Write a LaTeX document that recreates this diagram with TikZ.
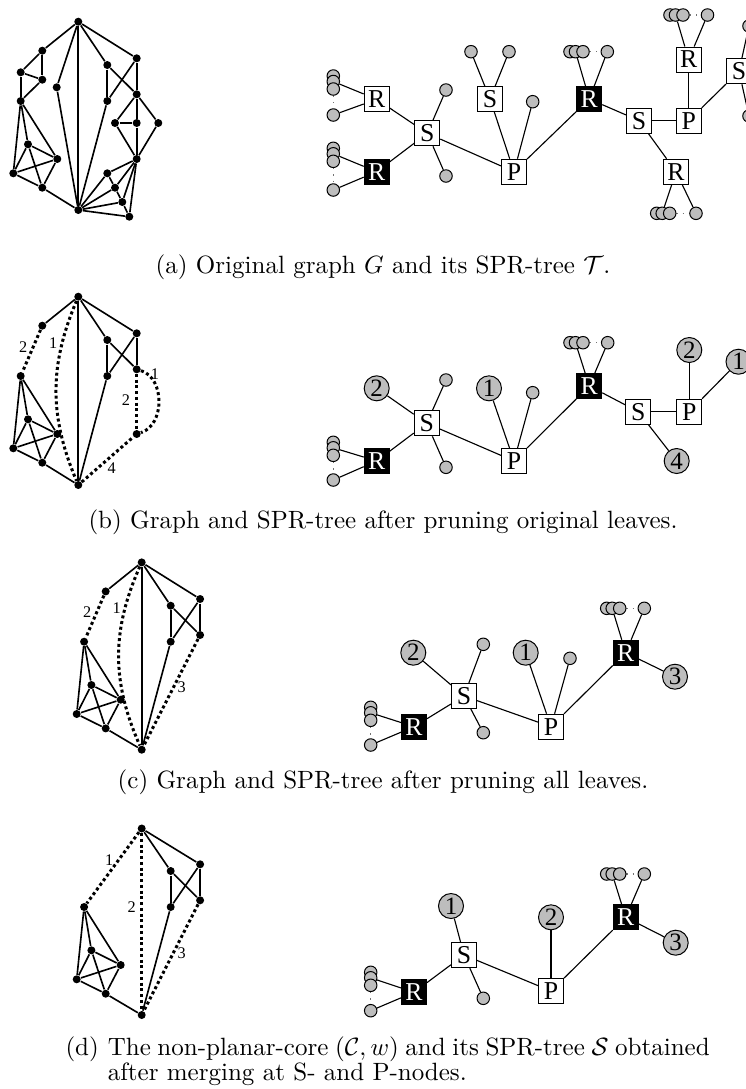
\documentclass[tikz,border=0pt]{standalone}
\usepackage{fontspec}
\newfontfamily\tms{Liberation Serif}
\pgfdeclarelayer{edges}
\pgfsetlayers{edges,main}
\definecolor{leafgray}{gray}{0.74}
\tikzset{
  vtx/.style={circle,fill=black,inner sep=0pt,minimum size=3.2pt},
  gedge/.style={line width=0.65pt},
  wedge/.style={line width=1.2pt,dash pattern=on 1.2pt off 1.1pt},
  wlabel/.style={font=\fontsize{6.5}{7}\tms,inner sep=0.5pt},
  tbox/.style={draw,line width=0.4pt,fill=white,minimum size=10pt,inner sep=0pt,font=\fontsize{10.3}{12}\tms},
  tboxblack/.style={tbox,fill=black,text=white},
  leaf/.style={circle,draw,line width=0.4pt,fill=leafgray,inner sep=0pt,minimum size=5pt},
  bigleaf/.style={circle,draw,line width=0.4pt,fill=leafgray,inner sep=0pt,minimum size=10pt,font=\fontsize{10}{12}\tms},
  tedge/.style={line width=0.45pt},
  leafdots/.style={draw=black!55,dotted,line width=0.5pt},
  capt/.style={inner sep=0pt,font=\fontsize{10}{12}\selectfont},
}
% vertical group of leaves: three stacked discs and a lone one, joined by dots
\newcommand\vleaves[4]{%
  \node[leaf] (#1a) at (#2,#3) {};
  \node[leaf] (#1b) at (#2,#3+5.5) {};
  \node[leaf] (#1c) at (#2,#3+13) {};
  \node[leaf] (#1d) at (#2,#4) {};
  \begin{pgfonlayer}{edges}\draw[leafdots] (#1c) -- (#1d);\end{pgfonlayer}}
% horizontal group of leaves
\newcommand\hleaves[4]{%
  \node[leaf] (#1a) at (#2,#3) {};
  \node[leaf] (#1b) at (#2+5.5,#3) {};
  \node[leaf] (#1c) at (#2+13,#3) {};
  \node[leaf] (#1d) at (#4,#3) {};
  \begin{pgfonlayer}{edges}\draw[leafdots] (#1c) -- (#1d);\end{pgfonlayer}}
\newcommand\placeverts[2]{\foreach \n/\x/\y in {#2} {\node[vtx] (#1\n) at (\x,\y) {};}}
\newcommand\joinverts[2]{\foreach \u/\v in {#2} {\draw[gedge] (#1\u) -- (#1\v);}}
\begin{document}
\begin{tikzpicture}[x=0.4pt,y=-0.4pt]
\useasboundingbox (0,0) rectangle (746,1089);
\clip (0,0) rectangle (746,1089);

% ---------------- (a) graph G ----------------
\placeverts{a}{T/78.3/21.7, A1/42.3/50.7, A2/20.7/72.3, A3/42.3/79.7, A4/20.7/101,
  C/56.7/87.3, K1/28/144.3, K2/57.3/159, K3/13.3/173.3, K4/42.3/187.7, B/78.3/210,
  R1/107.3/65, R2/136.7/58.3, R3/107.3/101, R4/136.7/94.3, R5/115/123, R6/136.7/123,
  R7/158.3/123, R8/136.7/159, R9/107.3/173.3, R10/115/187.7, R11/122.3/202, R12/129.3/216.7}
\joinverts{a}{T/A1, A1/A2, A1/A3, A2/A3, A2/A4, A3/A4, T/C, C/B, T/B, T/R1, T/R2,
  R1/R3, R1/R4, R2/R3, R2/R4, R3/B, R4/R5, R4/R6, R4/R7, R5/R6, R6/R8, R5/R8, R7/R8,
  R8/R9, R8/R10, R8/R11, R8/R12, B/R9, B/R10, B/R11, B/R12, R9/R10, R10/R11, R11/R12,
  A4/K1, A4/K2, A4/K3, K1/K2, K1/K3, K1/K4, K2/K3, K2/K4, K3/K4, K4/B}

% ---------------- (b) graph ----------------
\begin{scope}[shift={(0,275)}]
\placeverts{b}{T/78.3/21.7, A1/42.3/50.7, A4/20.7/101, K1/28/144.3, K2/57.3/159,
  K3/13.3/173.3, K4/42.3/187.7, B/78.3/210, R1/107.3/65, R2/136.7/58.3,
  R3/107.3/101, R4/136.7/94.3, R8/136.7/159}
\joinverts{b}{T/A1, T/B, T/R1, T/R2, R1/R3, R1/R4, R2/R3, R2/R4, R3/B,
  A4/K1, A4/K2, A4/K3, K1/K2, K1/K3, K1/K4, K2/K3, K2/K4, K3/K4, K4/B}
\draw[wedge] (bA1) -- (bA4);
\draw[wedge] (bT) to[bend right=23] (bB);
\draw[wedge] (bR4) -- (bR8);
\draw[wedge] (bR4) .. controls (165,103) and (165,150) .. (bR8);
\draw[wedge] (bB) -- (bR8);
\node[wlabel] (bl1) at (23.3,71.7) {2};
\node[wlabel] (bl2) at (53.3,68.3) {1};
\node[wlabel] (bl3) at (126,125) {2};
\node[wlabel] (bl4) at (155,99.3) {1};
\node[wlabel] (bl5) at (111.7,193.3) {4};
\end{scope}

% ---------------- (c) graph ----------------
\begin{scope}[shift={(63.4,540.7)}]
\placeverts{c}{T/78.3/21.7, A1/42.3/50.7, A4/20.7/101, K1/28/144.3, K2/57.3/159,
  K3/13.3/173.3, K4/42.3/187.7, B/78.3/209, R1/107.3/65, R2/136.7/58.3,
  R3/107.3/101, R4/136.7/94.3}
\joinverts{c}{T/A1, T/B, T/R1, T/R2, R1/R3, R1/R4, R2/R3, R2/R4, R3/B,
  A4/K1, A4/K2, A4/K3, K1/K2, K1/K3, K1/K4, K2/K3, K2/K4, K3/K4, K4/B}
\draw[wedge] (cA1) -- (cA4);
\draw[wedge] (cT) to[bend right=24] (cB);
\draw[wedge] (cR4) -- (cB);
\node[wlabel] (cl1) at (23.9,71) {2};
\node[wlabel] (cl2) at (53.3,67.6) {1};
\node[wlabel] (cl3) at (118.3,146) {3};
\end{scope}

% ---------------- (d) graph ----------------
\begin{scope}[shift={(63.4,806)}]
\placeverts{d}{T/78.3/22.5, A4/20.7/101, K1/28/144.3, K2/57.3/159,
  K3/13.3/173.3, K4/42.3/187.7, B/78.3/209, R1/107.3/65, R2/136.7/58.3,
  R3/107.3/101, R4/136.7/94.3}
\joinverts{d}{T/R1, T/R2, R1/R3, R1/R4, R2/R3, R2/R4, R3/B,
  A4/K1, A4/K2, A4/K3, K1/K2, K1/K3, K1/K4, K2/K3, K2/K4, K3/K4, K4/B}
\draw[wedge] (dT) -- (dA4);
\draw[wedge] (dT) -- (dB);
\draw[wedge] (dR4) -- (dB);
\node[wlabel] (dl1) at (45.9,54) {1};
\node[wlabel] (dl2) at (68.3,100.7) {2};
\node[wlabel] (dl3) at (118.3,147.3) {3};
\end{scope}

% ---------------- (a) SPR-tree ----------------
\node[tbox] (taR1) at (376.7,99.3) {R};
\node[tbox] (taS1) at (427.3,133.3) {S};
\node[tboxblack] (taR2) at (376.7,171.7) {R};
\node[tbox] (taS2) at (490,99) {S};
\node[tbox] (taP1) at (514,171.7) {P};
\node[tboxblack] (taR3) at (589.3,99) {R};
\node[tbox] (taS3) at (639,120.6) {S};
\node[tbox] (taP2) at (688.7,120.6) {P};
\node[tbox] (taR4) at (688.7,59.5) {R};
\node[tbox] (taR5) at (676,171.7) {R};
\node[tbox] (taS4) at (739,71.3) {S};
\vleaves{taL1}{333.3}{76}{115}
\vleaves{taL2}{333.3}{148.3}{190}
\hleaves{taL3}{570}{51.7}{607.3}
\hleaves{taL4}{670}{15}{707.5}
\hleaves{taL5}{656.7}{213.3}{696}
\node[leaf] (taM1) at (446,90) {};
\node[leaf] (taM2) at (446,176) {};
\node[leaf] (taM3) at (471,51.7) {};
\node[leaf] (taM4) at (509,51.7) {};
\node[leaf] (taM5) at (532.7,101.7) {};
\node[leaf] (taM6) at (749,26) {};
\node[leaf] (taM7) at (749,116) {};

% ---------------- (b) SPR-tree ----------------
\node[tboxblack] (tbR1) at (376.7,461) {R};
\node[tbox] (tbS1) at (426.7,423.3) {S};
\node[tbox] (tbP1) at (514,461) {P};
\node[tboxblack] (tbR3) at (589.3,386) {R};
\node[tbox] (tbS3) at (638.3,411.7) {S};
\node[tbox] (tbP2) at (689.3,411.7) {P};
\node[bigleaf] (tbW1) at (376.7,388.3) {2};
\node[bigleaf] (tbW2) at (489,388.3) {1};
\node[bigleaf] (tbW3) at (689.3,350) {2};
\node[bigleaf] (tbW4) at (738.5,361.7) {1};
\node[bigleaf] (tbW5) at (676.7,461) {4};
\node[leaf] (tbM1) at (446,380) {};
\node[leaf] (tbM2) at (446,467.3) {};
\node[leaf] (tbM3) at (532.7,392.7) {};
\vleaves{tbL1}{333.3}{442.3}{480}
\hleaves{tbL3}{570}{342.7}{607.7}

% ---------------- (c) SPR-tree ----------------
\node[tboxblack] (tcR1) at (414,726.7) {R};
\node[tbox] (tcS1) at (464,696) {S};
\node[tbox] (tcP1) at (551,726.7) {P};
\node[tboxblack] (tcR3) at (625.7,652.7) {R};
\node[bigleaf] (tcW1) at (413.3,652.7) {2};
\node[bigleaf] (tcW2) at (525.7,652.7) {1};
\node[bigleaf] (tcW3) at (675,676.7) {3};
\node[leaf] (tcM1) at (483.3,644.3) {};
\node[leaf] (tcM2) at (483.3,732.7) {};
\node[leaf] (tcM3) at (570,658.3) {};
\vleaves{tcL1}{370.7}{707.3}{745}
\hleaves{tcL3}{606.7}{608.3}{644.3}

% ---------------- (d) SPR-tree ----------------
\node[tboxblack] (tdR1) at (414,992.3) {R};
\node[tbox] (tdS1) at (464,955) {S};
\node[tbox] (tdP1) at (551,991) {P};
\node[tboxblack] (tdR3) at (625.7,917.3) {R};
\node[bigleaf] (tdW1) at (451,906) {1};
\node[bigleaf] (tdW2) at (551,917.3) {2};
\node[bigleaf] (tdW3) at (675.7,942.7) {3};
\node[leaf] (tdM1) at (483.3,998.3) {};
\vleaves{tdL1}{370.7}{972.3}{1010.7}
\hleaves{tdL3}{606.7}{874}{644.3}

% tree edges, kept underneath the nodes
\begin{pgfonlayer}{edges}
\foreach \u/\v in {taR1/taS1, taR2/taS1, taS1/taP1, taS2/taP1, taP1/taR3, taR3/taS3,
  taS3/taP2, taP2/taR4, taP2/taS4, taS3/taR5, taS1/taM1, taS1/taM2, taS2/taM3, taS2/taM4,
  taP1/taM5, taS4/taM6, taS4/taM7, taR1/taL1b, taR1/taL1d, taR2/taL2b, taR2/taL2d,
  taR3/taL3b, taR3/taL3d, taR4/taL4b, taR4/taL4d, taR5/taL5b, taR5/taL5d,
  tbR1/tbS1, tbW1/tbS1, tbS1/tbM1, tbS1/tbM2, tbS1/tbP1, tbW2/tbP1, tbM3/tbP1,
  tbP1/tbR3, tbR3/tbS3, tbS3/tbP2, tbP2/tbW3, tbP2/tbW4, tbS3/tbW5,
  tbR1/tbL1b, tbR1/tbL1d, tbR3/tbL3b, tbR3/tbL3d,
  tcR1/tcS1, tcW1/tcS1, tcS1/tcM1, tcS1/tcM2, tcS1/tcP1, tcW2/tcP1, tcM3/tcP1,
  tcP1/tcR3, tcR3/tcW3, tcR1/tcL1b, tcR1/tcL1d, tcR3/tcL3b, tcR3/tcL3d,
  tdR1/tdS1, tdW1/tdS1, tdS1/tdM1, tdS1/tdP1, tdW2/tdP1, tdP1/tdR3, tdR3/tdW3,
  tdR1/tdL1b, tdR1/tdL1d, tdR3/tdL3b, tdR3/tdL3d}
  {\draw[tedge] (\u) -- (\v);}
\end{pgfonlayer}

% ---------------- captions ----------------
\node[capt,anchor=base] (capa) at (383,273) {(a) Original graph $G$ and its SPR-tree $\mathcal{T}$.};
\node[capt,anchor=base] (capb) at (383,528) {(b) Graph and SPR-tree after pruning original leaves.};
\node[capt,anchor=base] (capc) at (383,788) {(c) Graph and SPR-tree after pruning all leaves.};
\node[capt,anchor=base west] (capd) at (65,1055) {(d)};
\node[capt,anchor=base west] (capd1) at (107.3,1055)
  {\spaceskip=2.65pt plus 1pt The non-planar-core $(\mathcal{C},w)$ and its SPR-tree $\mathcal{S}$ obtained};
\node[capt,anchor=base west] (capd2) at (107.3,1080) {after merging at S- and P-nodes.};
\end{tikzpicture}
\end{document}
